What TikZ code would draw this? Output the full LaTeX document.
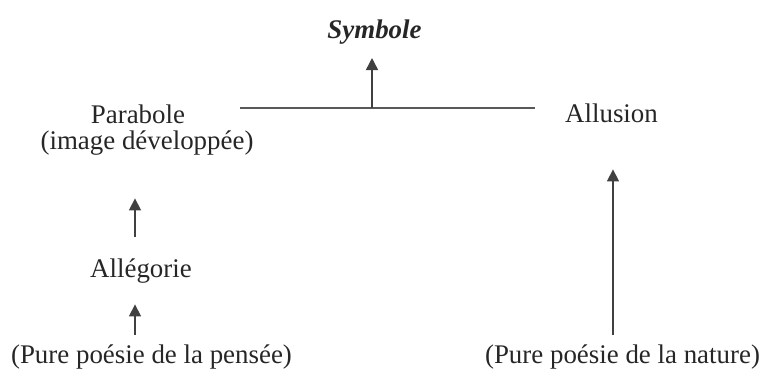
\documentclass[tikz,border=0pt]{standalone}
\usepackage{fontspec}
\setmainfont{Liberation Serif}
\usetikzlibrary{arrows.meta}
\tikzset{
  lbl/.style={inner sep=0pt, anchor=base, text height=0.7em, text depth=0.25em,
    font=\fontsize{13.45}{16}\selectfont, text=black!85},
  arr/.style={-{Triangle[width=6pt,length=6pt]}, line width=0.75pt, draw=black!75},
  bar/.style={line width=0.75pt, draw=black!65}
}
\begin{document}
\begin{tikzpicture}[x=0.5pt,y=-0.5pt]
  \useasboundingbox (0,0) rectangle (764,372);
  % Begriffe
  \node[lbl] (symbole)   at (374.5,38)  {\textbf{\textit{Symbole}}};
  \node[lbl] (parabole)  at (138,123)   {Parabole};
  \node[lbl] (image)     at (147,149)   {(image développée)};
  \node[lbl] (allusion)  at (611.5,122) {Allusion};
  \node[lbl] (allegorie) at (141,277)   {Allégorie};
  \node[lbl] (pensee)    at (151.5,363) {(Pure poésie de la pensée)};
  \node[lbl] (nature)    at (622.5,363) {(Pure poésie de la nature)};
  % Hilfspunkte
  \coordinate (links)  at (240,108);
  \coordinate (rechts) at (535,108);
  \coordinate (mitte)  at (372,108);
  \coordinate (ax)     at (135,0);
  \coordinate (bx)     at (613,0);
  % Querlinie
  \draw[bar] (links) -- (rechts);
  % Pfeile
  \draw[arr, shorten >=7.3] (mitte) -- (symbole.south -| mitte);
  \draw[arr, shorten <=13, shorten >=22] (allegorie.north -| ax) -- (image.south -| ax);
  \draw[arr, shorten <=7, shorten >=11] (pensee.north -| ax) -- (allegorie.south -| ax);
  \draw[arr, shorten <=7, shorten >=21] (nature.north -| bx) -- (allusion.south -| bx);
\end{tikzpicture}
\end{document}
